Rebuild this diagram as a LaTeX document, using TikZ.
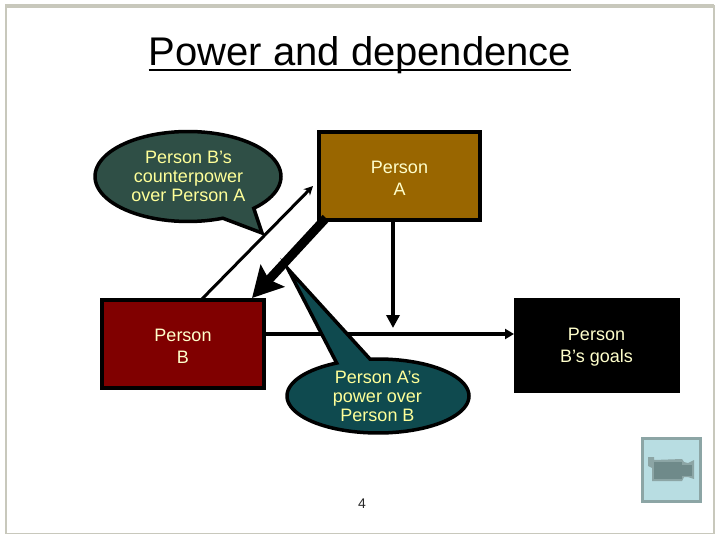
\documentclass[tikz,border=0pt]{standalone}
\usepackage{fontspec}
\setmainfont{Liberation Sans}
\usetikzlibrary{arrows.meta}
\definecolor{framec}{HTML}{C8C8BC}
\definecolor{boxA}{HTML}{996600}
\definecolor{boxB}{HTML}{800000}
\definecolor{calloutA}{HTML}{2F4F46}
\definecolor{calloutB}{HTML}{0F4A4F}
\definecolor{paleY}{HTML}{FFFF99}
\definecolor{creamY}{HTML}{FFFFCC}
\definecolor{btnfill}{HTML}{B8DDE2}
\definecolor{btnline}{HTML}{8CA5A5}
\definecolor{camdark}{HTML}{6F8A8A}
\tikzset{
  boxnode/.style={draw=black,line width=4pt,outer sep=0pt,inner sep=0pt,align=center,text=creamY,font=\fontsize{18}{22}\selectfont},
  calltext/.style={align=center,text=paleY,font=\fontsize{18}{19}\selectfont,inner sep=0pt},
  callshape/.style={draw=black,line width=3.5pt,line join=miter},
  conn/.style={draw=black,line width=3.5pt},
}
\begin{document}
\begin{tikzpicture}[x=1pt,y=-1pt]
\useasboundingbox (0,0) rectangle (720,540);
\fill[white] (0,0) rectangle (720,540);
% slide frame
\draw[framec,line width=1.5pt] (6,6) rectangle (714,533.5);
\draw[framec,line width=3.5pt] (5,6) -- (714,6);
\draw[framec,line width=2.5pt] (6,5) -- (6,534);
% title
\node[inner sep=0pt,anchor=base,font=\fontsize{40}{44}\selectfont] (title) at (360,66) {Power and dependence};
\draw[black,line width=2.5pt] ([yshift=-4pt]title.base west) -- ([yshift=-4pt]title.base east);
% boxes
\node[boxnode,fill=boxA,minimum width=161pt,minimum height=88pt] (pa) at (399.5,176) {\rule{0pt}{17pt}Person\\A};
\node[boxnode,fill=boxB,minimum width=162pt,minimum height=88pt] (pb) at (183,344) {\rule{0pt}{17pt}Person\\B};
\node[boxnode,fill=black,draw=black,line width=0pt,minimum width=165pt,minimum height=94pt] (goals) at (596.5,345) {\rule{0pt}{17pt}Person\\B’s goals};
% connectors
\draw[black,line width=3pt,-{Stealth[length=9pt,width=9pt]}] ([xshift=99pt]pb.north west) -- ([xshift=-6pt,yshift=-10pt]pa.west);
\draw[conn,-{Triangle[length=9pt,width=10pt]}] ([yshift=10pt]pb.east) -- ([yshift=11pt]goals.west);
\draw[conn,-{Triangle[length=13pt,width=13pt]}] ([xshift=-6.5pt]pa.south) -- +(0,108);
\draw[black,line width=9pt,-{Stealth[length=30pt,width=32pt,inset=5pt]}] ([xshift=-73.5pt,yshift=2pt]pa.south) -- ([xshift=69pt,yshift=2pt]pb.north);
% callouts
\draw[callshape,fill=calloutA] plot[domain=68:405,samples=90] ({188+93*cos(\x)},{176.5+45*sin(\x)}) -- (262,233) -- cycle;
\node[calltext] (ca) at (188.5,176) {Person B’s\\counterpower\\over Person A};
\draw[callshape,fill=calloutB] plot[domain=-95:243,samples=90] ({378+91*cos(\x)},{396+37*sin(\x)}) -- (288,269) -- cycle;
\node[calltext] (cb) at (377.5,396) {Person A’s\\power over\\Person B};
% page number
\node[inner sep=0pt,text=black!85,font=\fontsize{14}{16}\selectfont] (num) at (362,504) {4};
% movie button
\node[draw=btnline,fill=btnfill,line width=3pt,minimum width=58pt,minimum height=63pt,inner sep=0pt,outer sep=0pt] (btn) at (671.5,470) {};
\fill[btnline] (648,457) -- (654,457) -- (654,460) -- (682,459) -- (684,462) -- (688,463) -- (694,460) -- (694,479) -- (688,477) -- (684,477) -- (682,481) -- (652,481) -- (652,468) -- (648,466) -- cycle;
\fill[camdark] (654,462) rectangle (682,479);
\fill[camdark] (682,465) rectangle (692,476);
\end{tikzpicture}
\end{document}
